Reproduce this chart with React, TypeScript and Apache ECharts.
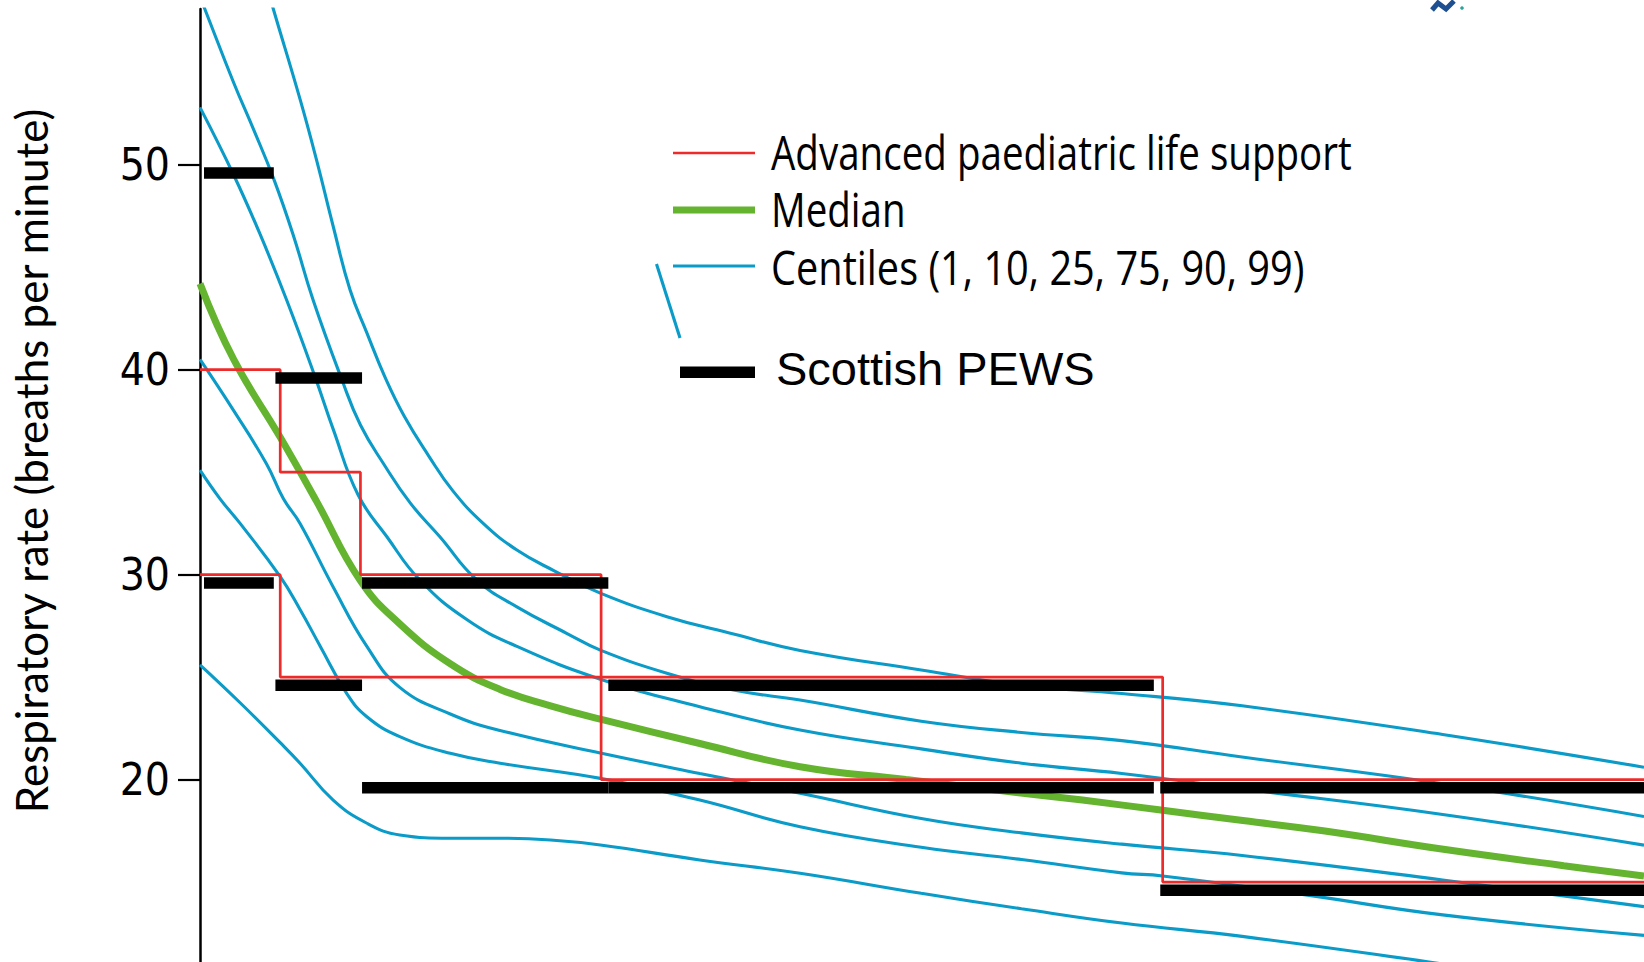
import React, { useEffect, useRef } from "react";
import * as echarts from "echarts";

// Centile curves: [age in years, respiratory rate in breaths per minute]
const centile99: [number, number][] = [
  [0.85, 58.5], [0.914, 57.6], [1.247, 53.2], [1.455, 50.2], [1.66, 47.0], [1.87, 43.9],
  [2.08, 41.8], [2.31, 39.6], [2.55, 37.7], [2.85, 35.8], [3.15, 34.1], [3.53, 32.5],
  [3.95, 31.2], [4.41, 30.2], [4.99, 29.1], [5.82, 27.95], [6.65, 27.1], [7.48, 26.3],
  [8.99, 25.35], [10.24, 24.6], [11.49, 24.2], [12.99, 23.6], [15.49, 22.2], [18, 20.6],
];
const centile90: [number, number][] = [
  [0, 58.2], [0.06, 57.6], [0.42, 54.0], [0.67, 51.7], [0.92, 49.3], [1.16, 46.6],
  [1.41, 43.4], [1.77, 39.5], [2.0, 37.3], [2.29, 35.4], [2.62, 33.5], [2.99, 31.85],
  [3.45, 29.74], [3.95, 28.43], [4.57, 27.14], [4.99, 26.32], [5.82, 25.19], [6.65, 24.37],
  [7.48, 23.88], [8.99, 22.85], [10.24, 22.3], [11.49, 21.9], [12.99, 21.1], [15.49, 19.8],
  [18, 18.2],
];
const centile75: [number, number][] = [
  [0, 52.8], [0.42, 49.5], [0.75, 46.6], [1.08, 43.4], [1.43, 39.7], [1.66, 37.1],
  [1.97, 33.9], [2.33, 31.85], [2.74, 29.74], [3.33, 27.8], [3.95, 26.5], [4.99, 24.9],
  [6.23, 23.56], [7.48, 22.42], [8.99, 21.5], [10.24, 20.8], [11.49, 20.3], [12.99, 19.55],
  [15.49, 18.3], [18, 16.8],
];
const median: [number, number][] = [
  [0, 44.2], [0.42, 40.5], [1.0, 36.7], [1.45, 33.6], [2.0, 29.7], [2.49, 27.6],
  [3.12, 25.65], [3.74, 24.4], [4.37, 23.6], [4.99, 22.95], [6.23, 21.76], [7.48, 20.63],
  [8.8, 20.0], [10, 19.45], [11, 19.0], [12, 18.5], [13, 18.0], [14, 17.5], [15.5, 16.6],
  [17, 15.8], [18, 15.3],
];
const centile25: [number, number][] = [
  [0, 40.5], [0.42, 38.0], [0.83, 35.4], [1.04, 33.7], [1.247, 32.5], [1.66, 29.4],
  [2.08, 26.5], [2.49, 24.5], [3.12, 23.2], [3.74, 22.4], [4.99, 21.3], [6.23, 20.3],
  [7.48, 19.33], [8.99, 18.1], [10.24, 17.4], [11.49, 16.85], [12.99, 16.3], [15.49, 15.1],
  [18, 13.8],
];
const centile10: [number, number][] = [
  [0, 35.1], [0.25, 33.7], [0.5, 32.5], [1, 29.9], [1.247, 28.3], [1.5, 26.5],
  [1.83, 24.2], [2.08, 23.07], [2.49, 22.1], [3.12, 21.28], [3.74, 20.8], [4.99, 20.06],
  [6.23, 19.0], [7.48, 17.7], [8.99, 16.7], [10.24, 16.1], [11.49, 15.45], [12.0, 15.3],
  [13.74, 14.4], [15.49, 13.4], [18, 12.4],
];
const centile1: [number, number][] = [
  [0, 25.6], [0.5, 23.75], [1.0, 21.8], [1.247, 20.8], [1.66, 19.0], [2.08, 17.87],
  [2.49, 17.3], [3.12, 17.14], [3.74, 17.14], [4.37, 17.05], [4.99, 16.81], [6.23, 16.08],
  [7.48, 15.43], [8.99, 14.45], [10.24, 13.7], [11.49, 13.0], [12.99, 12.35], [15.32, 11.1],
  [15.8, 10.8],
];

// Advanced paediatric life support normal ranges by age band
const aplsBandStart = [0, 1, 2, 5, 12];
const aplsUpper = [40, 35, 30, 25, 20];
const aplsLower = [30, 25, 25, 20, 15];
const ageEnd = 18;

// Scottish PEWS normal ranges by age band
const pewsStart = [0.05, 0.94, 2.02, 5.09, 11.97];
const pewsEnd = [0.92, 2.02, 5.09, 11.89, 18];
const pewsUpper = [50, 40, 30, 25, 20];
const pewsLower = [30, 25, 20, 20, 15];

const yTicks = [20, 30, 40, 50];

const legendLabels = [
  "Advanced paediatric life support",
  "Median",
  "Centiles (1, 10, 25, 75, 90, 99)",
  "Scottish PEWS",
];
const yTitle = "Respiratory rate (breaths per minute)";

const BLUE = "#0a9bc8";
const GREEN = "#64b42f";
const RED = "#ee2b2b";
const BLACK = "#000000";
const CONDENSED = '"DejaVu Sans Condensed", "DejaVu Sans", sans-serif';
const HUMANIST = '"Open Sans", "Noto Sans", sans-serif';
const SMOOTH = 0.45;

function stepData(upper: number[]): [number, number][] {
  const pts: [number, number][] = aplsBandStart.map((a, i) => [a, upper[i]]);
  pts.push([ageEnd, upper[upper.length - 1]]);
  return pts;
}

const pewsData: number[][] = [];
pewsStart.forEach((s, i) => {
  pewsData.push([s, pewsEnd[i], pewsUpper[i]]);
  pewsData.push([s, pewsEnd[i], pewsLower[i]]);
});

function centileSeries(data: [number, number][]) {
  return {
    type: "line",
    data,
    symbol: "none",
    smooth: SMOOTH,
    lineStyle: { color: BLUE, width: 3.1 },
    z: 2,
    silent: true,
  };
}

function legendText(text: string, y: number, scaleX: number) {
  // narrow humanist face, condensed horizontally
  return {
    type: "text",
    x: 771,
    y,
    scaleX,
    style: {
      text,
      fontSize: 47,
      fontFamily: HUMANIST,
      fill: BLACK,
      align: "left",
      verticalAlign: "middle",
    },
  };
}

export default function App() {
  const ref = useRef<HTMLDivElement>(null);

  useEffect(() => {
    if (!ref.current) return;
    const chart = echarts.init(ref.current, null, { renderer: "svg" });
    const legendX1 = 673;
    const legendX2 = 755;
    chart.setOption({
      animation: false,
      backgroundColor: "#ffffff",
      grid: { left: 200, right: 0, top: 9, bottom: 0 },
      xAxis: { type: "value", min: 0, max: ageEnd, show: false },
      yAxis: {
        type: "value",
        min: 11.1,
        max: 57.6,
        splitLine: { show: false },
        axisLine: { show: true, lineStyle: { color: BLACK, width: 2.5 } },
        axisTick: {
          show: true,
          length: 22,
          customValues: yTicks,
          lineStyle: { color: BLACK, width: 2.2 },
        },
        axisLabel: {
          customValues: yTicks,
          margin: 30,
          fontSize: 44,
          fontFamily: CONDENSED,
          color: BLACK,
        },
      },
      series: [
        centileSeries(centile99),
        centileSeries(centile90),
        centileSeries(centile75),
        centileSeries(centile25),
        centileSeries(centile10),
        centileSeries(centile1),
        {
          type: "line",
          data: median,
          symbol: "none",
          smooth: SMOOTH,
          lineStyle: { color: GREEN, width: 7 },
          z: 3,
          silent: true,
        },
        {
          type: "line",
          data: stepData(aplsUpper),
          step: "end",
          symbol: "none",
          lineStyle: { color: RED, width: 2.7 },
          z: 4,
          silent: true,
        },
        {
          type: "line",
          data: stepData(aplsLower),
          step: "end",
          symbol: "none",
          lineStyle: { color: RED, width: 2.7 },
          z: 4,
          silent: true,
        },
        {
          type: "custom",
          data: pewsData,
          encode: { x: [0, 1], y: 2 },
          z: 5,
          silent: true,
          renderItem: (_params: any, api: any) => {
            const a = api.coord([api.value(0), api.value(2)]);
            const b = api.coord([api.value(1), api.value(2)]);
            return {
              type: "rect",
              shape: { x: a[0], y: a[1] + 2.5, width: b[0] - a[0], height: 11.5 },
              style: { fill: BLACK },
            };
          },
        },
      ],
      graphic: [
        {
          type: "text",
          x: 31,
          y: 461,
          rotation: Math.PI / 2,
          style: {
            text: yTitle,
            fontSize: 44,
            fontFamily: "Lato, sans-serif",
            fill: BLACK,
            align: "center",
            verticalAlign: "middle",
          },
        },
        { type: "line", shape: { x1: legendX1, y1: 153, x2: legendX2, y2: 153 }, style: { stroke: RED, lineWidth: 2.7 } },
        { type: "line", shape: { x1: legendX1, y1: 210, x2: legendX2, y2: 210 }, style: { stroke: GREEN, lineWidth: 7 } },
        { type: "line", shape: { x1: legendX1, y1: 266, x2: legendX2, y2: 266 }, style: { stroke: BLUE, lineWidth: 3.1 } },
        { type: "rect", shape: { x: 680, y: 366.5, width: 75, height: 11.5 }, style: { fill: BLACK } },
        { type: "line", shape: { x1: 656.5, y1: 264, x2: 680, y2: 338 }, style: { stroke: BLUE, lineWidth: 3.1 } },
        legendText(legendLabels[0], 152, 0.82),
        legendText(legendLabels[1], 209, 0.82),
        legendText(legendLabels[2], 267, 0.845),
        {
          type: "text",
          x: 776,
          y: 368,
          style: {
            text: legendLabels[3],
            fontSize: 47,
            fontFamily: '"Liberation Sans", Arial, sans-serif',
            fill: BLACK,
            align: "left",
            verticalAlign: "middle",
          },
        },
        {
          type: "polyline",
          shape: { points: [[1432, 10], [1438, 3], [1446, 9], [1454, 1]] },
          style: { stroke: "#1d4f91", lineWidth: 5, fill: "none" },
        },
        { type: "circle", shape: { cx: 1462, cy: 8, r: 1.8 }, style: { fill: "#2aa39a" } },
      ],
    });
    return () => chart.dispose();
  }, []);

  return (
    <div
      ref={ref}
      style={{ position: "absolute", left: 0, top: 0, width: 1644, height: 962 }}
    />
  );
}
